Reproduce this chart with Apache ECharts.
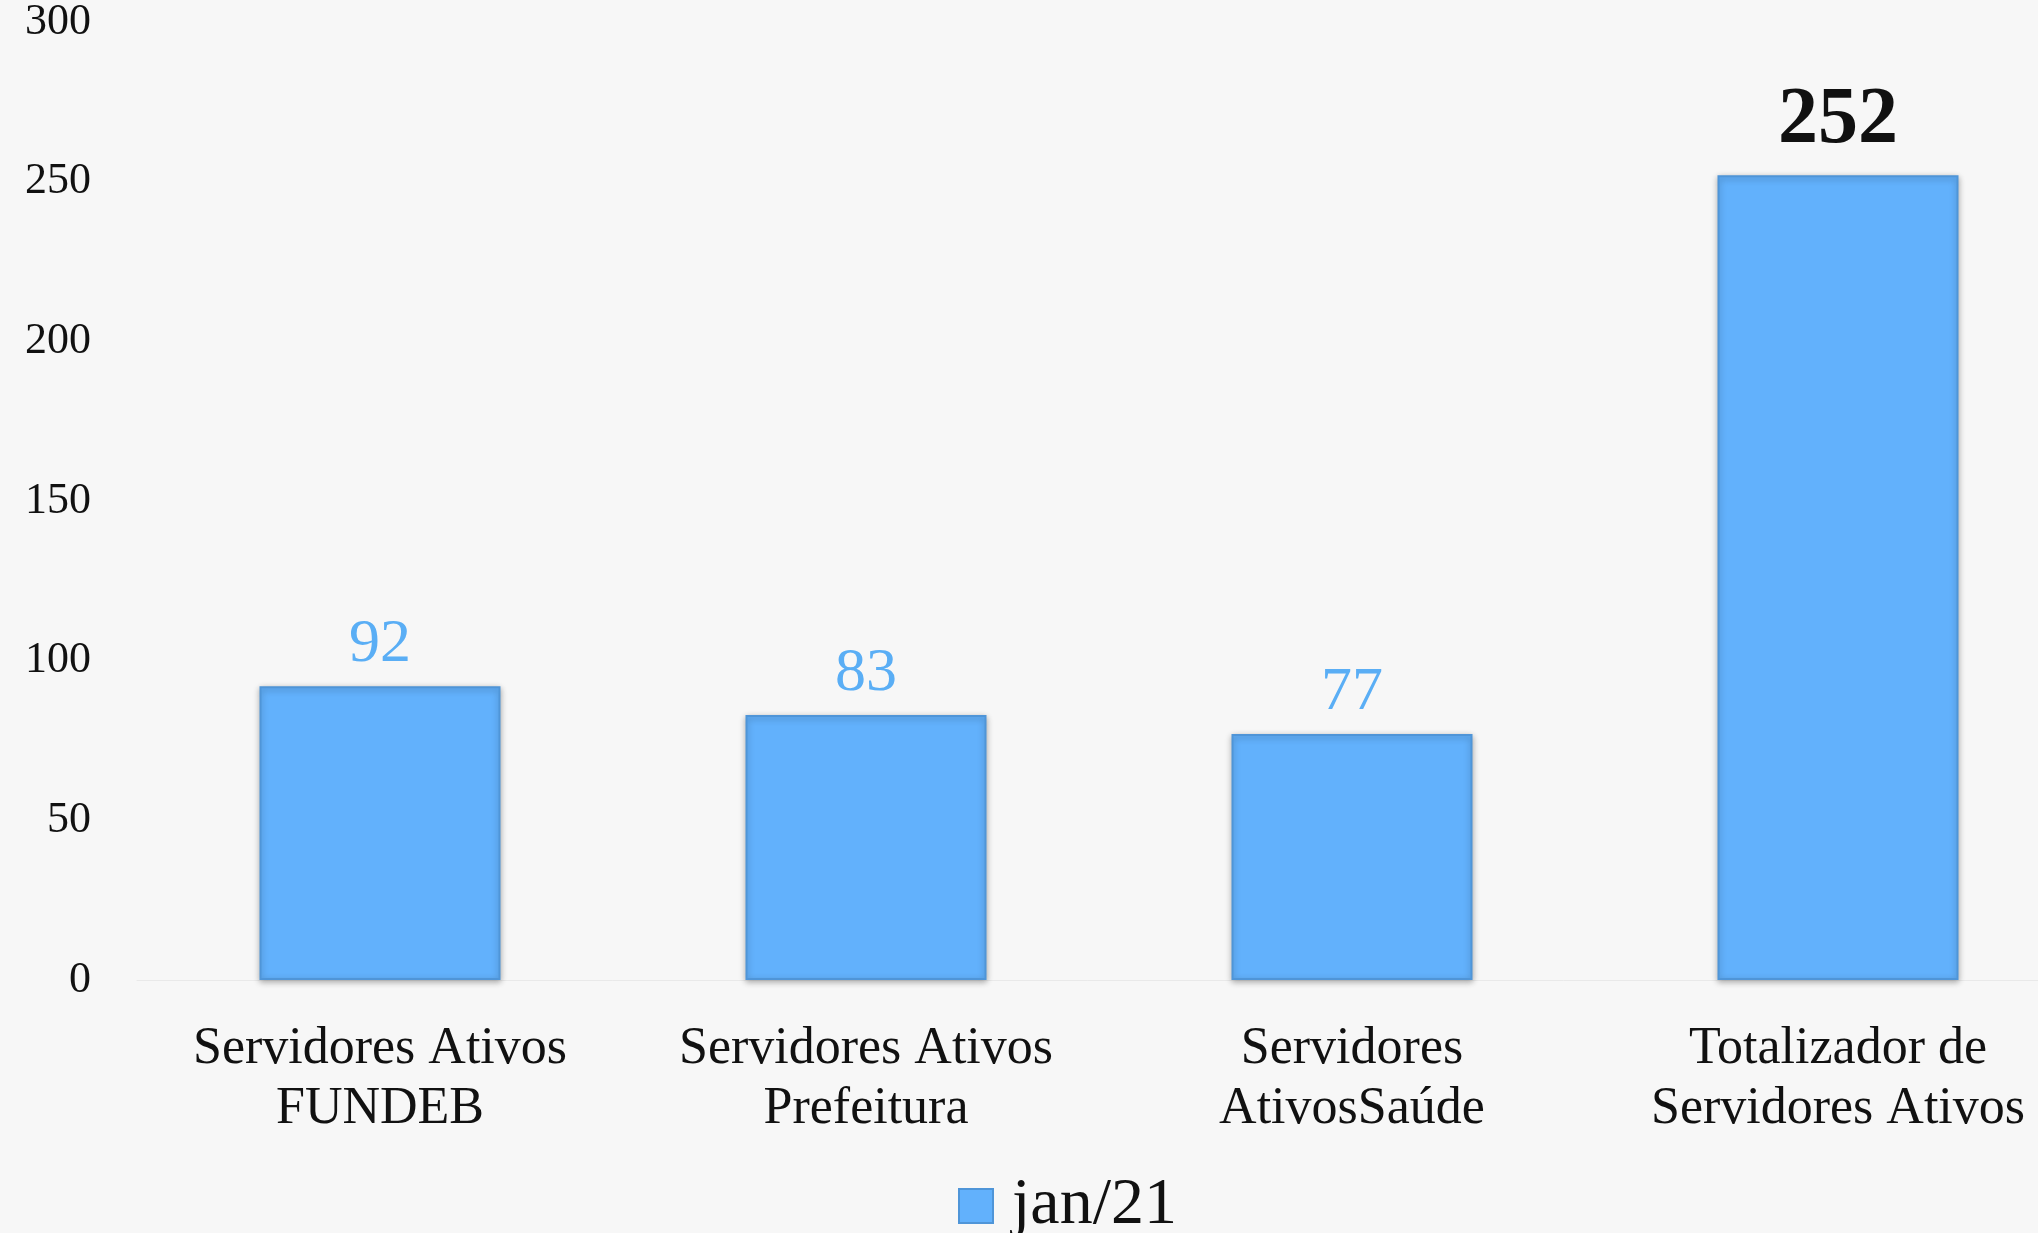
<!DOCTYPE html>
<html>
<head>
<meta charset="utf-8">
<title>Servidores Ativos jan/21</title>
<script src="https://cdn.jsdelivr.net/npm/echarts@6/dist/echarts.min.js"></script>
<style>
  html, body { margin: 0; padding: 0; background: #f7f7f7; }
  #chart { width: 2038px; height: 1233px; }
</style>
</head>
<body>
<div id="chart"></div>
<script>
// categorias e valores
const categories = [
  "Servidores Ativos\nFUNDEB",
  "Servidores Ativos\nPrefeitura",
  "Servidores\nAtivosSaúde",
  "Totalizador de\nServidores Ativos"
];
const seriesName = "jan/21";
const values = [92, 83, 77, 252];
const yTicks = [0, 50, 100, 150, 200, 250, 300];

const FONT = "'Liberation Serif', 'DejaVu Serif', serif";
const BAR_BLUE = "#62b1fc";

//rótulo do total fica preto e maior
const barData = values.map((v, i) => {
  if (i === values.length - 1) {
    return {
      value: v,
      label: { color: "#111", fontSize: 80, fontWeight: "bold", distance: 14 }
    };
  }
  return v;
});

const chart = echarts.init(document.getElementById("chart"));
chart.setOption({
  backgroundColor: "#f7f7f7",
  textStyle: { fontFamily: FONT },
  animation: false,
  // o eixo passa da borda direita, como no original
  grid: {
    left: 137,
    top: 22,
    width: 1944,
    height: 958,
    containLabel: false,
    outerBoundsMode: "none"
  },
  legend: {
    data: [seriesName],
    top: 1168,
    left: 953,
    itemWidth: 34,
    itemHeight: 34,
    itemGap: 10,
    icon: "rect",
    textStyle: { fontFamily: FONT, fontSize: 66, color: "#111", padding: [0, 0, 0, 14] }
  },
  xAxis: {
    type: "category",
    data: categories,
    axisLine: { show: true, lineStyle: { color: "#e9e9e9", width: 1 } },
    axisTick: { show: false },
    axisLabel: {
      interval: 0,
      margin: 39,
      fontFamily: FONT,
      fontSize: 52,
      lineHeight: 60,
      color: "#111"
    }
  },
  yAxis: {
    type: "value",
    min: yTicks[0],
    max: yTicks[yTicks.length - 1],
    interval: yTicks[1] - yTicks[0],
    splitLine: { show: false },
    axisLine: { show: false },
    axisTick: { show: false },
    axisLabel: { margin: 46, fontFamily: FONT, fontSize: 44, color: "#111" }
  },
  series: [
    {
      name: seriesName,
      type: "bar",
      barWidth: 241,
      data: barData,
      itemStyle: {
        color: BAR_BLUE,
        borderColor: "#4f95d8",
        borderWidth: 2,
        shadowColor: "rgba(0,0,0,0.3)",
        shadowBlur: 6,
        shadowOffsetY: 2
      },
      label: {
        show: true,
        position: "top",
        distance: 10,
        fontFamily: FONT,
        fontSize: 62,
        color: "#5aaef5"
      }
    }
  ]
});
</script>
</body>
</html>
